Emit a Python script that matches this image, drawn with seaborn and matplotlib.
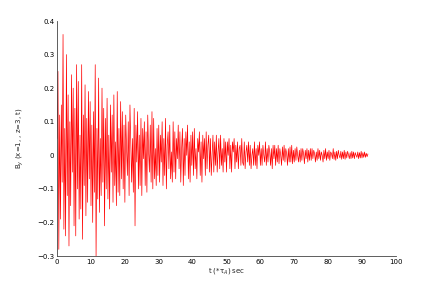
import numpy as np
import pandas as pd
import matplotlib
matplotlib.use("Agg")
import matplotlib.pyplot as plt
import seaborn as sns

# sample spacing of the trace (time units of tau_A)
dt = 0.25

# B_y values, 20 samples per 5 time units
by_values = [
    0.05, 0.25, -0.28, 0.12, -0.19, 0.15, -0.08, 0.36, -0.22, 0.08, -0.24, 0.30, -0.12, 0.18, -0.27, 0.10, -0.15, 0.24, -0.05, 0.20,
    -0.21, 0.14, -0.24, 0.27, -0.10, 0.22, -0.19, 0.06, -0.16, 0.27, -0.25, 0.12, -0.09, 0.21, -0.18, 0.11, -0.14, 0.19, -0.07, 0.16,
    -0.15, 0.09, -0.20, 0.13, -0.11, 0.27, -0.30, 0.08, -0.13, 0.23, -0.17, 0.05, -0.12, 0.20, -0.08, 0.14, -0.21, 0.11, -0.10, 0.17,
    -0.13, 0.06, -0.16, 0.15, -0.05, 0.12, -0.14, 0.18, -0.09, 0.04, -0.15, 0.19, -0.11, 0.08, -0.12, 0.16, -0.07, 0.13, -0.10, 0.09,
    -0.14, 0.12, 0.02, -0.06, 0.10, -0.12, 0.15, 0.03, -0.08, 0.05, -0.11, 0.14, -0.21, 0.09, -0.02, 0.13, -0.10, 0.06, -0.09, 0.11,
    -0.12, 0.08, -0.01, 0.10, -0.09, 0.07, -0.11, 0.12, 0.01, -0.05, 0.09, -0.08, 0.13, -0.10, 0.11, -0.07, 0.02, -0.09, 0.08, -0.06,
    0.09, -0.08, 0.06, -0.02, 0.10, -0.09, 0.05, -0.06, 0.11, -0.10, 0.03, 0.07, -0.04, 0.09, -0.07, 0.01, -0.08, 0.10, -0.05, 0.07,
    -0.07, 0.05, -0.01, 0.09, -0.04, 0.07, -0.08, 0.02, 0.08, -0.09, 0.05, -0.06, 0.07, 0.00, 0.09, -0.07, 0.04, -0.08, 0.06, -0.03,
    0.07, -0.06, 0.08, -0.04, 0.02, -0.07, 0.05, 0.01, 0.07, -0.06, 0.04, -0.08, 0.06, -0.01, 0.05, -0.06, 0.07, -0.04, 0.03, 0.06,
    -0.05, 0.05, -0.06, 0.00, 0.06, -0.05, 0.04, -0.03, 0.06, -0.05, 0.01, 0.05, -0.04, 0.06, -0.03, 0.02, -0.05, 0.05, -0.02, 0.04,
    -0.05, 0.04, 0.00, 0.05, -0.04, 0.03, -0.05, 0.04, 0.01, 0.05, -0.04, 0.03, -0.02, 0.04, -0.04, 0.02, 0.03, -0.03, 0.05, -0.02,
    -0.03, 0.04, -0.04, 0.01, 0.03, -0.02, 0.04, -0.03, 0.03, -0.04, 0.00, 0.02, -0.03, 0.04, -0.03, 0.02, -0.04, 0.03, 0.00, 0.04,
    -0.03, 0.02, -0.03, 0.03, 0.00, -0.02, 0.04, -0.03, 0.02, -0.02, 0.03, 0.01, -0.03, 0.02, -0.04, 0.03, -0.01, 0.03, -0.03, 0.02,
    -0.02, 0.03, -0.025, 0.02, 0.00, -0.03, 0.025, -0.015, 0.03, -0.02, 0.02, 0.005, -0.03, 0.02, -0.02, 0.025, -0.02, 0.03, -0.025, 0.015,
    -0.02, 0.02, -0.015, 0.025, 0.00, -0.02, 0.015, -0.02, 0.02, -0.015, 0.02, 0.005, -0.025, 0.015, -0.01, 0.02, -0.02, 0.015, -0.015, 0.02,
    -0.015, 0.02, -0.01, 0.015, 0.005, -0.02, 0.01, -0.015, 0.02, -0.01, 0.015, -0.015, 0.01, 0.00, -0.02, 0.015, -0.01, 0.02, -0.015, 0.01,
    -0.01, 0.015, -0.015, 0.01, 0.005, -0.01, 0.02, -0.012, 0.01, -0.015, 0.012, -0.01, 0.015, 0.00, -0.008, 0.012, -0.012, 0.01, -0.01, 0.015,
    -0.012, 0.01, -0.008, 0.012, 0.002, -0.01, 0.008, -0.01, 0.012, -0.008, 0.01, -0.01, 0.008, 0.00, -0.006, 0.01, -0.01, 0.008, -0.008, 0.012,
    -0.008, 0.008, -0.006, 0.01, -0.006, 0.006, -0.004, 0.004,
]
t_values = np.arange(len(by_values)) * dt

x_ticks = [0, 10, 20, 30, 40, 50, 60, 70, 80, 90, 100]
y_ticks = [-0.3, -0.2, -0.1, 0, 0.1, 0.2, 0.3, 0.4]
y_tick_labels = ["\u22120.3", "\u22120.2", "\u22120.1", "0", "0.1", "0.2", "0.3", "0.4"]

df = pd.DataFrame({"t": t_values, "By": by_values})

sns.set_style("white")
plt.rcParams['font.family'] = ['DejaVu Sans']

fig = plt.figure(figsize=(4.36, 2.88), dpi=100)
ax = fig.add_axes([0.131, 0.111, 0.777, 0.816])

sns.lineplot(data=df, x="t", y="By", color="red", linewidth=0.5,
             estimator=None, ax=ax)

ax.set_xlim(0, 100)
ax.set_ylim(-0.3, 0.4)
ax.set_xticks(x_ticks)
ax.set_yticks(y_ticks)
ax.set_xticklabels([str(v) for v in x_ticks])
ax.set_yticklabels(y_tick_labels)
ax.tick_params(direction="in", length=3.5, width=0.5, labelsize=5, pad=2,
               colors="#333333", labelcolor="black")

for side in ["top", "right"]:
    ax.spines[side].set_visible(False)
for side in ["left", "bottom"]:
    ax.spines[side].set_linewidth(0.6)
    ax.spines[side].set_color("#444444")

ax.set_xlabel("t (*\u03c4$_A$) sec", fontsize=5, labelpad=1)
ax.set_ylabel("B$_y$ (x=1, , z=3, t)", fontsize=5, labelpad=8)

fig.savefig("out.png", dpi=100)
